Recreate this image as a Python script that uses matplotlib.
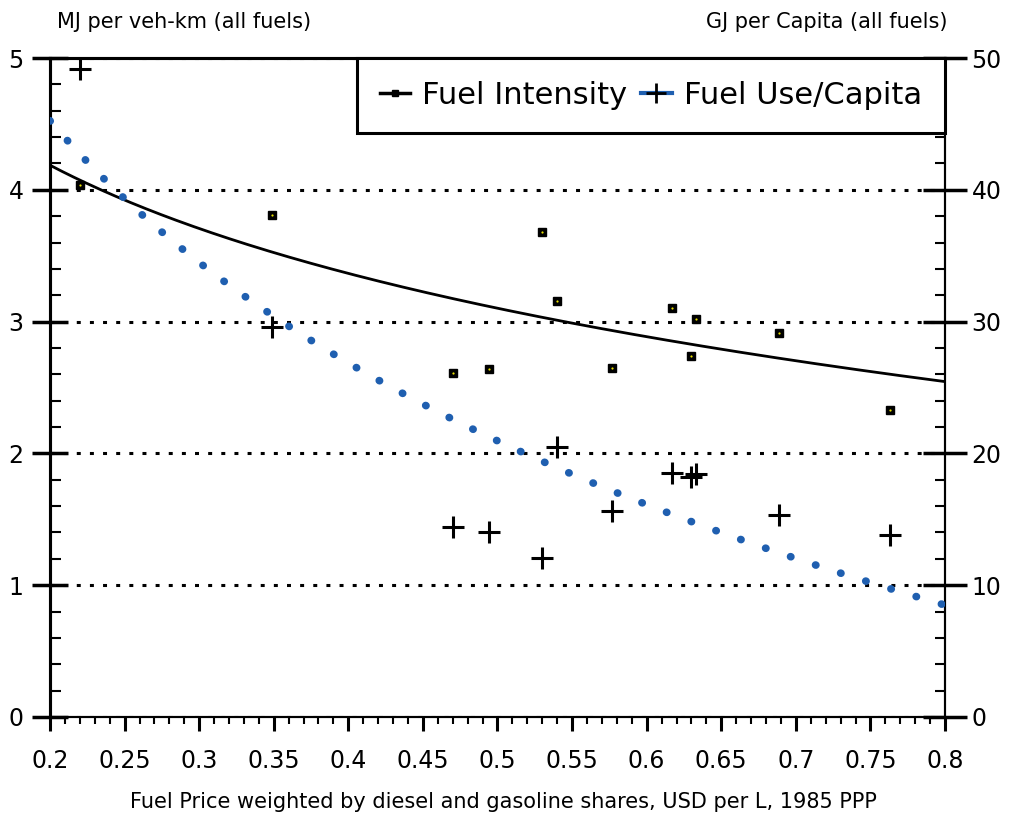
import numpy as np
import matplotlib
matplotlib.use("Agg")
import matplotlib.pyplot as plt
from matplotlib.lines import Line2D
from matplotlib.ticker import MultipleLocator

# fuel price (USD per L, 1985 PPP) for each city/country point
price = [0.220, 0.349, 0.470, 0.494, 0.530, 0.540, 0.577, 0.617, 0.630, 0.633, 0.689, 0.763]
# MJ per veh-km
intensity = [4.04, 3.81, 2.61, 2.64, 3.68, 3.16, 2.65, 3.10, 2.74, 3.02, 2.91, 2.33]
# GJ per capita
use_capita = [49.2, 29.6, 14.4, 14.0, 12.1, 20.5, 15.6, 18.5, 18.2, 18.4, 15.3, 13.8]

x_ticks = [0.2, 0.25, 0.3, 0.35, 0.4, 0.45, 0.5, 0.55, 0.6, 0.65, 0.7, 0.75, 0.8]
x_labels = ["0.2", "0.25", "0.3", "0.35", "0.4", "0.45", "0.5", "0.55", "0.6", "0.65", "0.7", "0.75", "0.8"]

blue = "#1f5fb0"

fig = plt.figure(figsize=(10.1, 8.14), dpi=100)
ax = fig.add_axes([50 / 1010, 1 - 717 / 814, 895 / 1010, 659 / 814])
ax2 = ax.twinx()

# logarithmic trend lines fitted to the points
px = np.log(price)
xs = np.linspace(0.2, 0.8, 300)
b1, a1 = np.polyfit(px, intensity, 1)
b2, a2 = np.polyfit(px, use_capita, 1)

ax.plot(xs, a1 + b1 * np.log(xs), color="k", lw=2.0, zorder=3)
ax.plot(price, intensity, ls="none", marker="s", ms=6, mfc="k", mec="k", zorder=4)
ax.plot(price, intensity, ls="none", marker="o", ms=1.6, mfc="#e8e000", mec="none", zorder=5)

ax2.plot(xs, a2 + b2 * np.log(xs), color=blue, lw=5.5, ls=(0, (0.05, 3.4)),
         dash_capstyle="round", zorder=3)
ax2.plot(price, use_capita, ls="none", marker="+", ms=16, mec="k", mew=2.2, zorder=4)

ax.set_xlim(0.2, 0.8)
ax.set_ylim(0, 5)
ax2.set_ylim(0, 50)

ax.set_xticks(x_ticks)
ax.set_xticklabels(x_labels)
ax.xaxis.set_minor_locator(MultipleLocator(0.01))
ax.set_yticks([0, 1, 2, 3, 4, 5])
ax.yaxis.set_minor_locator(MultipleLocator(0.2))
ax2.set_yticks([0, 10, 20, 30, 40, 50])
ax2.yaxis.set_minor_locator(MultipleLocator(2))

ax.tick_params(axis="x", which="major", direction="out", length=10, width=2.2, pad=13, labelsize=17)
ax.tick_params(axis="x", which="minor", direction="out", length=5, width=1.5)
ax.tick_params(axis="y", which="major", direction="inout", length=26, width=2.5, pad=6, labelsize=17)
ax.tick_params(axis="y", which="minor", direction="in", length=8, width=1.5)
ax2.tick_params(axis="y", which="major", direction="inout", length=32, width=2.5, pad=3, labelsize=17)
ax2.tick_params(axis="y", which="minor", direction="in", length=7, width=1.5)

for a in (ax, ax2):
    a.spines["top"].set_linewidth(2.2)
    a.spines["left"].set_linewidth(2.2)
    a.spines["right"].set_linewidth(1.5)
    a.spines["bottom"].set_linewidth(1.5)

ax.grid(axis="y", which="major", color="k", lw=2.2, ls=(0, (1.3, 3.0)))
ax.set_axisbelow(True)

handles = [
    Line2D([], [], color="k", lw=2.5, marker="s", ms=5, mfc="k", mec="k"),
    Line2D([], [], color=blue, lw=3, marker="+", ms=15, mec="k", mew=2),
]
leg = ax2.legend(handles, ["Fuel Intensity", "Fuel Use/Capita"], loc="upper right",
                 bbox_to_anchor=(1, 1), ncol=2, fontsize=22, frameon=True, fancybox=False,
                 framealpha=1, borderaxespad=0, handlelength=1.0, handletextpad=0.4,
                 columnspacing=0.45, borderpad=0.75)
leg.get_frame().set_edgecolor("k")
leg.get_frame().set_linewidth(2.2)

fig.text(57 / 1010, 1 - 22 / 814, "MJ per veh-km (all fuels)", fontsize=15, ha="left", va="center")
fig.text(947 / 1010, 1 - 22 / 814, "GJ per Capita (all fuels)", fontsize=15, ha="right", va="center")
fig.text(503 / 1010, 1 - 802 / 814,
         "Fuel Price weighted by diesel and gasoline shares, USD per L, 1985 PPP",
         fontsize=15, ha="center", va="center")

fig.savefig("out.png", dpi=100)
